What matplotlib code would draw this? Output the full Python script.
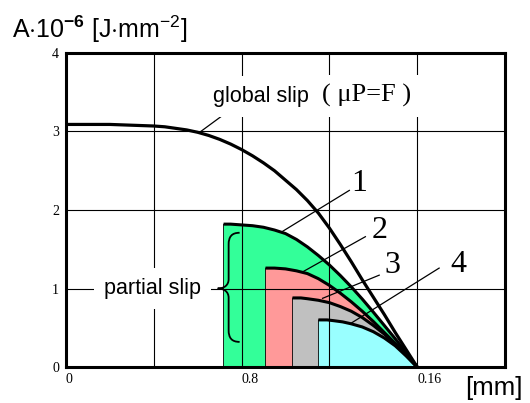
import matplotlib
matplotlib.use('Agg')
import matplotlib.pyplot as plt
from matplotlib.path import Path
from matplotlib.patches import PathPatch

plt.rcParams['mathtext.fontset'] = 'custom'
plt.rcParams['mathtext.rm'] = 'Liberation Sans'
plt.rcParams['mathtext.it'] = 'Liberation Sans:italic'
plt.rcParams['mathtext.bf'] = 'Liberation Sans:bold'

SANS = 'Liberation Sans'
SERIF = 'Liberation Serif'

# ---------------- data ----------------
global_x = [0.0, 0.01, 0.02, 0.03, 0.04, 0.045, 0.05, 0.055, 0.06, 0.065, 0.07, 0.075,
            0.08, 0.085, 0.09, 0.095, 0.10, 0.105, 0.11, 0.115, 0.12, 0.125, 0.13,
            0.135, 0.14, 0.145, 0.15, 0.155, 0.16]
global_y = [3.09, 3.09, 3.09, 3.08, 3.07, 3.06, 3.04, 3.02, 2.99, 2.95, 2.90, 2.84,
            2.77, 2.69, 2.60, 2.50, 2.38, 2.26, 2.12, 1.96, 1.77, 1.56, 1.34,
            1.11, 0.89, 0.67, 0.44, 0.22, 0.0]

p1_x = [0.0718, 0.075, 0.08, 0.085, 0.09, 0.095, 0.10, 0.105, 0.11, 0.115, 0.12,
        0.125, 0.13, 0.135, 0.14, 0.145, 0.15, 0.155, 0.16]
p1_y = [1.82, 1.82, 1.81, 1.80, 1.78, 1.745, 1.70, 1.625, 1.53, 1.42, 1.30,
        1.165, 1.02, 0.865, 0.70, 0.53, 0.36, 0.18, 0.0]

p2_x = [0.0909, 0.095, 0.10, 0.105, 0.11, 0.115, 0.12, 0.125, 0.13, 0.135, 0.14,
        0.145, 0.15, 0.155, 0.16]
p2_y = [1.26, 1.26, 1.25, 1.225, 1.19, 1.125, 1.04, 0.94, 0.83, 0.71, 0.58,
        0.44, 0.30, 0.15, 0.0]

p3_x = [0.1032, 0.107, 0.11, 0.115, 0.12, 0.125, 0.13, 0.135, 0.14, 0.145, 0.15, 0.155, 0.16]
p3_y = [0.88, 0.88, 0.87, 0.85, 0.82, 0.77, 0.71, 0.63, 0.53, 0.42, 0.29, 0.15, 0.0]

p4_x = [0.115, 0.119, 0.122, 0.126, 0.13, 0.135, 0.14, 0.145, 0.15, 0.155, 0.16]
p4_y = [0.60, 0.60, 0.59, 0.575, 0.55, 0.51, 0.45, 0.37, 0.27, 0.14, 0.0]

partial_curves = [(p1_x, p1_y), (p2_x, p2_y), (p3_x, p3_y), (p4_x, p4_y)]
partial_colors = ['#33FF99', '#FF9999', '#C0C0C0', '#99FFFF']
partial_labels = ['1', '2', '3', '4']

x_ticks = [0.0, 0.08, 0.16]
x_tick_labels = ['0', '0.8', '0.16']
y_ticks = [0, 1, 2, 3, 4]
y_tick_labels = ['0', '1', '2', '3', '4']

# ---------------- figure ----------------
fig = plt.figure(figsize=(5.3, 4.03), dpi=100)
ax = fig.add_axes([0.1245, 0.0893, 0.8283, 0.7792])
ax.set_xlim(0, 0.2)
ax.set_ylim(0, 4)

# filled partial-slip regions
for (px, py), c in zip(partial_curves, partial_colors):
    ax.fill([px[0]] + px, [0] + py, facecolor=c, edgecolor='black', lw=0.6, zorder=1)

# grid
for gx in [0.04, 0.08, 0.12, 0.16]:
    ax.axvline(gx, color='black', lw=0.8, zorder=2)
for gy in [1, 2, 3]:
    ax.axhline(gy, color='black', lw=0.8, zorder=2)

# curves
ax.plot(global_x, global_y, color='black', lw=2.3, zorder=4, solid_capstyle='butt')
for px, py in partial_curves:
    ax.plot(px, py, color='black', lw=2.2, zorder=4, solid_capstyle='butt')

# spines / ticks
for s in ax.spines.values():
    s.set_linewidth(2.2)
    s.set_zorder(6)
ax.set_xticks(x_ticks)
ax.set_xticklabels(x_tick_labels, ha='left', fontfamily=SERIF, fontsize=10)
ax.set_yticks(y_ticks)
ax.set_yticklabels(y_tick_labels, fontfamily=SERIF, fontsize=10)
ax.tick_params(length=0, pad=4)
ax.tick_params(axis='y', pad=5)

# global slip annotation
wb = dict(facecolor='white', edgecolor='none', pad=7)
ax.plot([0.0609, 0.0755], [2.99, 3.29], color='black', lw=0.9, zorder=5)
ax.text(0.0668, 3.376, 'global slip', fontfamily=SANS, fontsize=15.5,
        ha='left', va='baseline', bbox=wb, zorder=7)
ax.text(0.1165, 3.376, '( \u03bcP=F )', fontfamily=SERIF, fontsize=19,
        ha='left', va='baseline', bbox=wb, zorder=7)

# number labels with leaders
leaders = [((0.0982, 1.72), (0.1291, 2.25), (0.1336, 2.34)),
           ((0.1077, 1.21), (0.1364, 1.66), (0.1427, 1.74)),
           ((0.1169, 0.875), (0.1427, 1.17), (0.1486, 1.29)),
           ((0.1300, 0.56), (0.1700, 1.26), (0.1786, 1.30))]
for lab, (a, b, t) in zip(partial_labels, leaders):
    ax.plot([a[0], b[0]], [a[1], b[1]], color='black', lw=0.9, zorder=5)
    ax.text(t[0], t[1], lab, fontfamily=SERIF, fontsize=23, ha='center', va='center', zorder=7)

# partial slip label and brace
ax.text(0.0395, 1.0, 'partial slip', fontfamily=SANS, fontsize=15.5,
        ha='center', va='center', bbox=wb, zorder=7)
verts = [(0.0791, 1.71),
         (0.0755, 1.71), (0.0741, 1.66), (0.0741, 1.56),
         (0.0741, 1.12),
         (0.0741, 1.04), (0.0720, 1.0), (0.0691, 1.0),
         (0.0720, 1.0), (0.0741, 0.96), (0.0741, 0.88),
         (0.0741, 0.47),
         (0.0741, 0.37), (0.0755, 0.32), (0.0791, 0.32)]
codes = [Path.MOVETO,
         Path.CURVE4, Path.CURVE4, Path.CURVE4,
         Path.LINETO,
         Path.CURVE4, Path.CURVE4, Path.CURVE4,
         Path.CURVE4, Path.CURVE4, Path.CURVE4,
         Path.LINETO,
         Path.CURVE4, Path.CURVE4, Path.CURVE4]
ax.add_patch(PathPatch(Path(verts, codes), facecolor='none', edgecolor='black', lw=1.3, zorder=5))

# axis titles
fig.text(0.0226, 0.9057, r'A$\cdot$10$^{\mathbf{-6}}$ [J$\cdot$mm$^{-2}$]',
         fontfamily=SANS, fontsize=18, ha='left', va='baseline')
fig.text(0.877, 0.037, '[mm]', fontfamily=SANS, fontsize=18.5, ha='left', va='center')

fig.savefig('out.png', dpi=100)
